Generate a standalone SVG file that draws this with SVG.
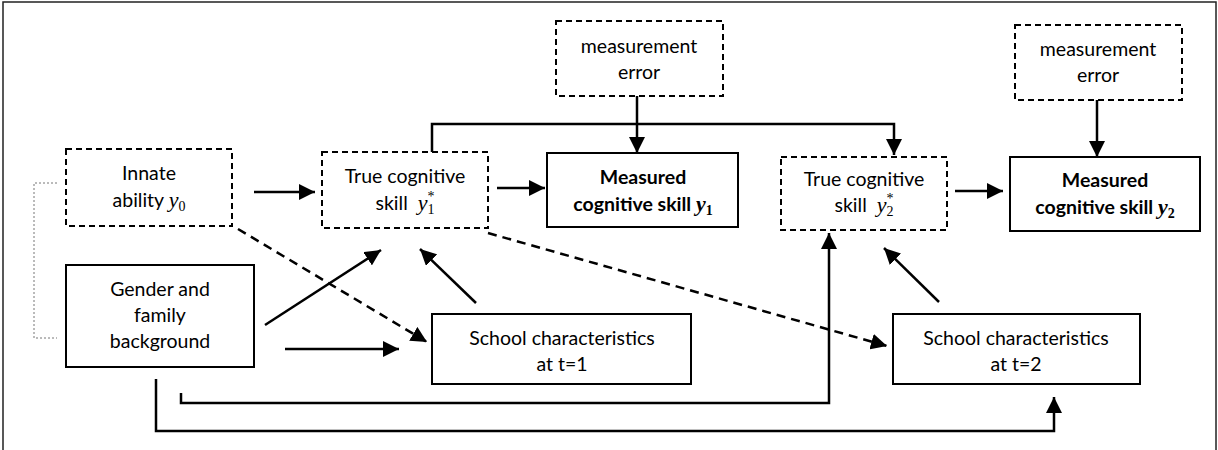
<svg xmlns="http://www.w3.org/2000/svg" width="1218" height="450" viewBox="0 0 1218 450">
  <style>
    .box { fill: #ffffff; stroke: #000000; stroke-width: 2; }
    .dbox { fill: #ffffff; stroke: #000000; stroke-width: 2; stroke-dasharray: 6 4; }
    .t { font-family: Lato, "Open Sans", sans-serif; font-size: 19.5px; fill: #000000; text-anchor: middle; }
    .b { font-weight: bold; }
    .m { font-family: "Liberation Serif", serif; font-style: italic; font-size: 22px; }
    .s { font-family: "Liberation Serif", serif; font-size: 14px; font-style: normal; }
    .c { fill: none; stroke: #000000; stroke-width: 2.5; }
    .cd { fill: none; stroke: #000000; stroke-width: 2.5; stroke-dasharray: 9 6; }
  </style>
  <defs>
    <marker id="ah" markerUnits="userSpaceOnUse" markerWidth="17" markerHeight="16" refX="16" refY="8" orient="auto">
      <path d="M0,0 L16,8 L0,16 z" fill="#000000"/>
    </marker>
  </defs>
  <rect x="3" y="2" width="1213" height="470" fill="#ffffff" stroke="#222222" stroke-width="1.5"/>

  <g id="connectors">
    <path class="c" d="M254,192 H315" marker-end="url(#ah)"/>
    <path class="c" d="M497,188 H545" marker-end="url(#ah)"/>
    <path class="c" d="M637,96 V153" marker-end="url(#ah)"/>
    <path class="c" d="M432,152 V124 H894 V155" marker-end="url(#ah)"/>
    <path class="c" d="M955,191 H1003" marker-end="url(#ah)"/>
    <path class="c" d="M1097,100 V157" marker-end="url(#ah)"/>
    <path class="c" d="M265,325 L381,250" marker-end="url(#ah)"/>
    <path class="c" d="M285,349 H399" marker-end="url(#ah)"/>
    <path class="c" d="M476,303 L420,249" marker-end="url(#ah)"/>
    <path class="c" d="M939,302 L884,248" marker-end="url(#ah)"/>
    <path class="cd" d="M238,229 L427,342" marker-end="url(#ah)"/>
    <path class="cd" d="M488,233 L887,346" marker-end="url(#ah)"/>
    <path class="c" d="M181,393 V403 H829 V233" marker-end="url(#ah)"/>
    <path class="c" d="M156,379 V431 H1054 V397" marker-end="url(#ah)"/>
    <path d="M57,183 H34 V338 H57" fill="none" stroke="#777777" stroke-width="1" stroke-dasharray="2 2"/>
  </g>

  <g id="innate">
    <rect class="dbox" x="66" y="149" width="166" height="77"/>
    <text class="t" x="149" y="180">Innate</text>
    <text class="t" x="149" y="207">ability <tspan class="m">y</tspan><tspan class="s" dy="4">0</tspan></text>
  </g>

  <g id="gender">
    <rect class="box" x="66" y="265" width="188" height="102"/>
    <text class="t" x="160" y="296">Gender and</text>
    <text class="t" x="160" y="322">family</text>
    <text class="t" x="160" y="348">background</text>
  </g>

  <g id="true1">
    <rect class="dbox" x="322" y="152" width="166" height="76"/>
    <text class="t" x="405" y="183">True cognitive</text>
    <text class="t" x="405" y="210" xml:space="preserve">skill  <tspan class="m">y</tspan><tspan class="s" dy="4">1</tspan><tspan class="s" dx="-7" dy="-13" font-size="11">*</tspan></text>
  </g>

  <g id="measured1">
    <rect class="box" x="547" y="153" width="191" height="74"/>
    <text class="t b" x="643" y="184">Measured</text>
    <text class="t b" x="643" y="211">cognitive skill <tspan class="m b">y</tspan><tspan class="s b" dy="4">1</tspan></text>
  </g>

  <g id="error1">
    <rect class="dbox" x="556" y="21" width="167" height="75"/>
    <text class="t" x="639" y="53">measurement</text>
    <text class="t" x="639" y="79">error</text>
  </g>

  <g id="true2">
    <rect class="dbox" x="781" y="157" width="166" height="73"/>
    <text class="t" x="864" y="186">True cognitive</text>
    <text class="t" x="864" y="212" xml:space="preserve">skill  <tspan class="m">y</tspan><tspan class="s" dy="4">2</tspan><tspan class="s" dx="-7" dy="-13" font-size="11">*</tspan></text>
  </g>

  <g id="measured2">
    <rect class="box" x="1010" y="157" width="190" height="74"/>
    <text class="t b" x="1105" y="187">Measured</text>
    <text class="t b" x="1105" y="214">cognitive skill <tspan class="m b">y</tspan><tspan class="s b" dy="4">2</tspan></text>
  </g>

  <g id="error2">
    <rect class="dbox" x="1015" y="25" width="167" height="75"/>
    <text class="t" x="1098" y="56">measurement</text>
    <text class="t" x="1098" y="82">error</text>
  </g>

  <g id="school1">
    <rect class="box" x="432" y="314" width="259" height="70"/>
    <text class="t" x="562" y="345">School characteristics</text>
    <text class="t" x="562" y="371">at t=1</text>
  </g>

  <g id="school2">
    <rect class="box" x="893" y="314" width="247" height="70"/>
    <text class="t" x="1016" y="345">School characteristics</text>
    <text class="t" x="1016" y="371">at t=2</text>
  </g>
</svg>
